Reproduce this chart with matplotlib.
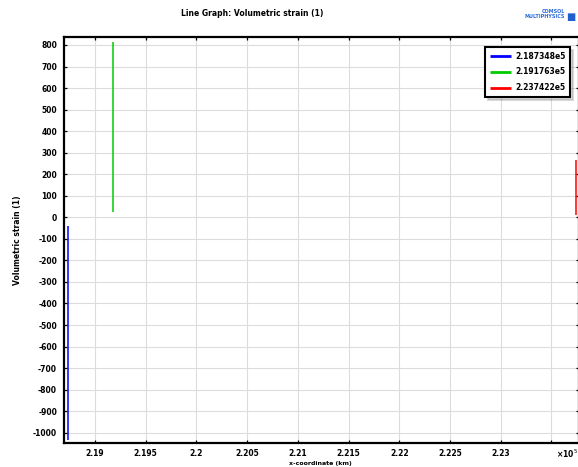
import matplotlib
matplotlib.use("Agg")
import matplotlib.pyplot as plt
from matplotlib.ticker import FixedLocator, FuncFormatter

# ---- data ----
series_labels = ["2.187348e5", "2.191763e5", "2.237422e5"]
series_x = [2.187348e5, 2.191763e5, 2.237422e5]
blue_strain = [-40, -1035]
green_strain = [26, 815]
red_strain = [11, 265]
series_colors = ["#0000ff", "#00cc00", "#ff0000"]

x_ticks = [2.19e5, 2.195e5, 2.2e5, 2.205e5, 2.21e5, 2.215e5, 2.22e5, 2.225e5, 2.23e5, 2.235e5]
y_ticks = list(range(-1000, 801, 100))

W, H = 578, 467
fig = plt.figure(figsize=(W / 100, H / 100), dpi=100)
fig.patch.set_facecolor("white")

ax_l, ax_r, ax_t, ax_b = 64, 579, 37.3, 443.3
ax = fig.add_axes([ax_l / W, 1 - ax_b / H, (ax_r - ax_l) / W, (ax_b - ax_t) / H])

strains = [blue_strain, green_strain, red_strain]
for xv, ys, c, lab in zip(series_x, strains, series_colors, series_labels):
    ax.plot([xv] * len(ys), ys, color=c, lw=1.1, label=lab, solid_capstyle="butt")

ax.set_xlim(2.18694e5, 2.23773e5)
ax.set_ylim(-1049, 835.7)

ax.xaxis.set_major_locator(FixedLocator(x_ticks))
ax.yaxis.set_major_locator(FixedLocator(y_ticks))

def xfmt(v, pos):
    if abs(v - 2.235e5) < 1:
        return ""
    return f"{v / 1e5:g}"

ax.xaxis.set_major_formatter(FuncFormatter(xfmt))
ax.yaxis.set_major_formatter(FuncFormatter(lambda v, p: f"{v:g}"))

ax.grid(True, color="#dcdcdc", lw=0.8, ls="-")
ax.set_axisbelow(True)
ax.tick_params(direction="in", length=2.5, width=0.9, top=True, right=True,
               labelsize=5.5, pad=5, colors="black")
ax.tick_params(axis="x", pad=4)
for lbl in ax.get_xticklabels() + ax.get_yticklabels():
    lbl.set_fontweight("bold")
for sp in ax.spines.values():
    sp.set_linewidth(1.6)
    sp.set_color("black")

ax.set_ylabel("Volumetric strain (1)", fontsize=5.5, fontweight="bold", labelpad=8)
fig.text(320 / W, 1 - 463 / H, "x-coordinate (km)", fontsize=4.5, fontweight="bold",
         ha="center", va="center")

fig.text(556 / W, 1 - 454 / H, "×10$^{5}$", fontsize=5.5, fontweight="bold",
         ha="left", va="center")
fig.text(252 / W, 1 - 13 / H, "Line Graph: Volumetric strain (1)", fontsize=5.5,
         fontweight="bold", ha="center", va="center")
fig.text(565 / W, 1 - 14 / H, "COMSOL\nMULTIPHYSICS", fontsize=3.5, color="#2a6bd8",
         ha="right", va="center", linespacing=1.0, fontweight="bold")
fig.text(571 / W, 1 - 17 / H, "■", fontsize=7, color="#1f5fd0", ha="center", va="center")

leg = ax.legend(loc="upper right", bbox_to_anchor=((570 - ax_l) / (ax_r - ax_l), 1 - (47 - ax_t) / (ax_b - ax_t)),
                fontsize=5.5, frameon=True, fancybox=False, shadow={"alpha": 0.2},
                handlelength=2.8, borderpad=0.6, labelspacing=0.9, handletextpad=0.5,
                borderaxespad=0)
leg.get_frame().set_edgecolor("black")
leg.get_frame().set_linewidth(1.5)
for t in leg.get_texts():
    t.set_fontweight("bold")
for h in leg.legend_handles:
    h.set_linewidth(2.0)

fig.savefig("out.png", dpi=100)
